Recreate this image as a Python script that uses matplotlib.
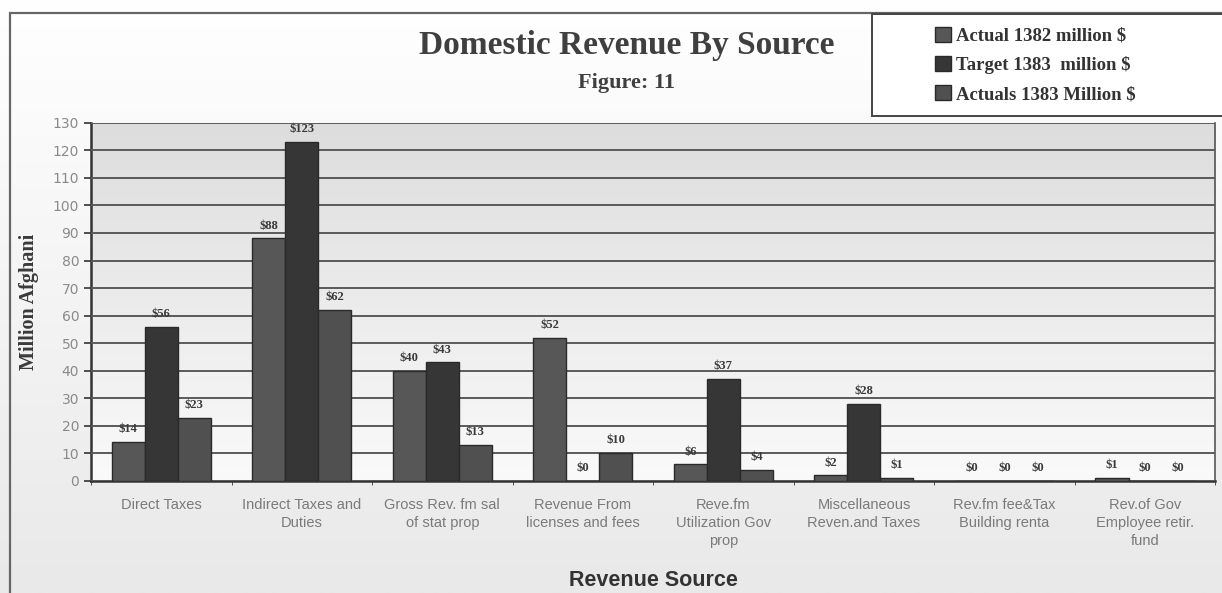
import matplotlib.pyplot as plt
import numpy as np
from matplotlib.colors import LinearSegmentedColormap
from matplotlib.patches import Rectangle

categorias = [
    "Direct Taxes",
    "Indirect Taxes and\nDuties",
    "Gross Rev. fm sal\nof stat prop",
    "Revenue From\nlicenses and fees",
    "Reve.fm\nUtilization Gov\nprop",
    "Miscellaneous\nReven.and Taxes",
    "Rev.fm fee&Tax\nBuilding renta",
    "Rev.of Gov\nEmployee retir.\nfund",
]
actual_1382 = [14, 88, 40, 52, 6, 2, 0, 1]
target_1383 = [56, 123, 43, 0, 37, 28, 0, 0]
actuals_1383 = [23, 62, 13, 10, 4, 1, 0, 0]
series_nombres = ["Actual 1382 million $", "Target 1383  million $", "Actuals 1383 Million $"]
colores = ["#575757", "#363636", "#505050"]

fig = plt.figure(figsize=(12.22, 5.93), dpi=100, facecolor="white")

# fondo de la figura: blanco arriba, gris claro abajo
fondo = fig.add_axes([0, 0, 1, 1], zorder=-10)
fondo.imshow(np.linspace(0, 1, 256).reshape(-1, 1), extent=[0, 1, 0, 1], aspect="auto",
             cmap=LinearSegmentedColormap.from_list("f", ["#ffffff", "#e9e9e9"]), origin="upper")
fondo.axis("off")

ax = fig.add_axes([0.0745, 0.189, 0.92, 0.604])

# degradado del area de trazado
cmap_fondo = LinearSegmentedColormap.from_list("g", ["#dddddd", "#fafafa"])
ax.imshow(np.linspace(0, 1, 256).reshape(-1, 1), extent=[-0.5, 7.5, 0, 130], aspect="auto",
          cmap=cmap_fondo, origin="upper", zorder=0)

x = np.arange(len(categorias))
ancho = 0.235
for i, (vals, nombre, color) in enumerate(zip([actual_1382, target_1383, actuals_1383], series_nombres, colores)):
    pos = x + (i - 1) * ancho
    ax.bar(pos, vals, width=ancho, color=color, edgecolor="#2a2a2a", linewidth=1.0,
           label=nombre, zorder=3)
    for px, v in zip(pos, vals):
        ax.text(px, v + 2.5, f"${v}", ha="center", va="bottom", fontsize=9,
                family="Liberation Serif", weight="bold", color="#3a3a3a", zorder=4)

ax.set_xlim(-0.5, 7.5)
ax.set_ylim(0, 130)
ax.set_yticks(range(0, 131, 10))
ax.yaxis.grid(True, color="#5a5a5a", linewidth=1.4, zorder=1)
ax.set_axisbelow(False)
ax.set_xticks(x)
ax.set_xticklabels(categorias, fontsize=10.5, color="#7a7a7a", family="Liberation Sans",
                   linespacing=1.4)
ax.set_xticks(np.arange(-0.5, 8, 1), minor=True)
ax.tick_params(axis="x", which="major", length=0, pad=12)
ax.tick_params(axis="x", which="minor", length=3, color="#333333")
ax.tick_params(axis="y", labelsize=10, labelcolor="#8a8a8a", length=5, width=1.2,
               color="#333333")
ax.spines["top"].set_visible(False)
ax.spines["right"].set_color("#555555")
ax.spines["right"].set_linewidth(1.2)
ax.spines["left"].set_color("#333333")
ax.spines["left"].set_linewidth(1.8)
ax.spines["bottom"].set_color("#333333")
ax.spines["bottom"].set_linewidth(1.8)

ax.set_ylabel("Million Afghani", family="Liberation Serif", weight="bold",
              fontsize=14.5, color="#3a3a3a")
ax.yaxis.set_label_coords(-0.046, 0.5)
ax.set_xlabel("Revenue Source", family="Liberation Sans", weight="bold",
              fontsize=15.5, color="#333333")
ax.xaxis.set_label_coords(0.5, -0.248)

fig.text(0.513, 0.924, "Domestic Revenue By Source", ha="center", va="center",
         family="Liberation Serif", weight="bold", fontsize=24, color="#3f3f3f")
fig.text(0.513, 0.86, "Figure: 11", ha="center", va="center",
         family="Liberation Serif", weight="bold", fontsize=16, color="#3f3f3f")

# marco exterior
fig.add_artist(Rectangle((0.0085, -0.01), 1.0, 0.988, transform=fig.transFigure,
                         fill=False, edgecolor="#666666", linewidth=1.6))

# caja de leyenda
fig.add_artist(Rectangle((0.7136, 0.8044), 0.29, 0.172, transform=fig.transFigure,
                         facecolor="white", edgecolor="#444444", linewidth=1.4, zorder=5))
leg = fig.legend(loc="upper left", bbox_to_anchor=(0.765, 0.955), ncol=1,
                 prop={"family": "Liberation Serif", "weight": "bold", "size": 13.5},
                 frameon=False, handlelength=0.85, handleheight=0.85, handletextpad=0.3,
                 labelspacing=0.6, borderpad=0, borderaxespad=0)
leg.set_zorder(6)
for t in leg.get_texts():
    t.set_color("#333333")

fig.savefig("out.png", dpi=100)
